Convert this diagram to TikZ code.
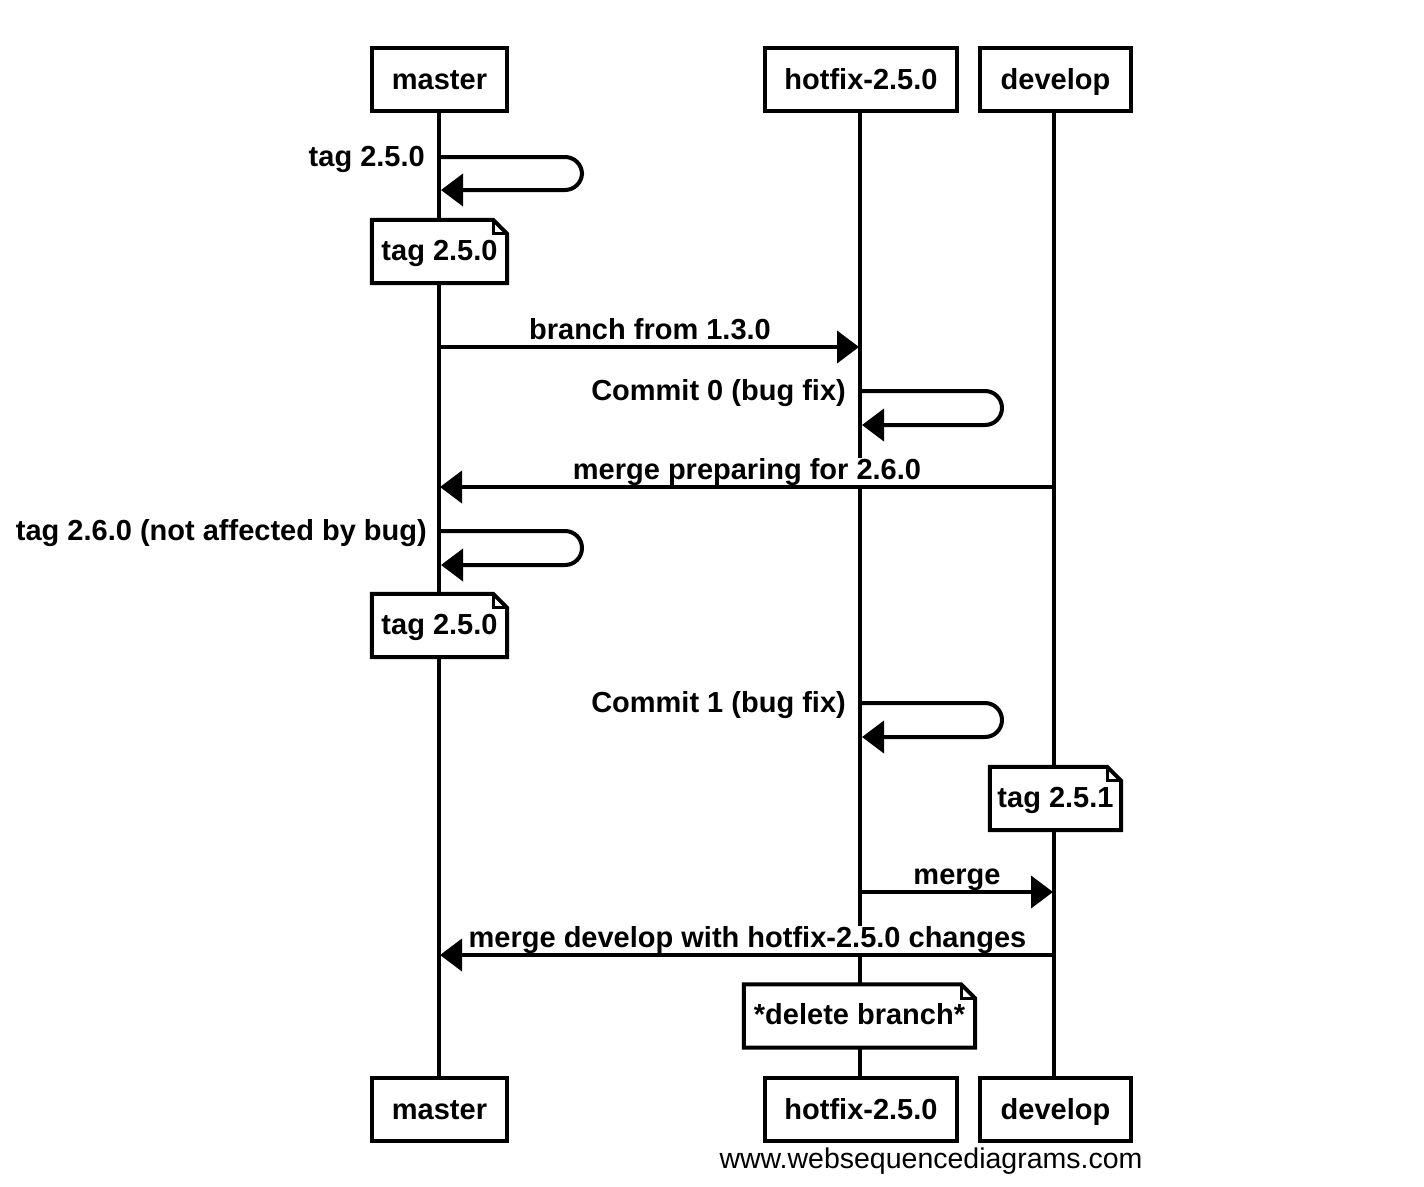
\documentclass[tikz,border=0pt]{standalone}
\usepackage{fontspec}
\setmainfont{Liberation Sans}
\usetikzlibrary{arrows.meta}
\begin{document}
\begin{tikzpicture}[x=1pt,y=-1pt,
  lw/.style={line width=4pt},
  txt/.style={font=\fontsize{29}{34}\selectfont\bfseries},
  actor/.style={draw, lw, fill=white, txt, minimum height=63pt, inner sep=0pt, text height=23.5pt, text depth=3.5pt},
  notebox/.style={fill=white, txt, minimum height=63pt, inner sep=0pt, text height=22pt, text depth=5pt},
  msg/.style={lw, -{Triangle[length=22pt,width=32pt]}},
  selfmsg/.style={msg, rounded corners=17pt},
  lbl/.style={fill=white, inner sep=0pt, txt, anchor=base},
  slbl/.style={inner sep=0pt, txt, anchor=base east},
  ]
\useasboundingbox (0,0) rectangle (1424,1186);
\fill[white] (0,0) rectangle (1424,1186);

% lifelines
\draw[lw] (439,100) coordinate (mL1) -- (439,1090) coordinate (mL2);
\draw[lw] (860,100) coordinate (hL1) -- (860,1090) coordinate (hL2);
\draw[lw] (1054,100) coordinate (dL1) -- (1054,1090) coordinate (dL2);

% participants
\node[actor, minimum width=135pt] (mT) at (439.5,79.5) {master};
\node[actor, minimum width=192pt] (hT) at (861,79.5) {hotfix-2.5.0};
\node[actor, minimum width=151pt] (dT) at (1055.5,79.5) {develop};
\node[actor, minimum width=135pt] (mB) at (439.5,1109.5) {master};
\node[actor, minimum width=192pt] (hB) at (861,1109.5) {hotfix-2.5.0};
\node[actor, minimum width=151pt] (dB) at (1055.5,1109.5) {develop};

% self message 1
\coordinate (s1a) at (441,157);
\coordinate (s1b) at (582,157);
\coordinate (s1c) at (582,190);
\coordinate (s1d) at (441,190);
\draw[selfmsg] (s1a) -- (s1b) -- (s1c) -- (s1d);
\node[slbl] (l1) at (425,166) {tag 2.5.0};

% note 1
\node[notebox, minimum width=135pt] (n1) at (439.5,251.5) {tag 2.5.0};

% branch from
\node[lbl] (l2) at (650,339) {branch from 1.3.0};
\coordinate (b1) at (441,347);
\coordinate (b2) at (859,347);
\draw[msg] (b1) -- (b2);

% commit 0
\coordinate (c0a) at (862,391);
\coordinate (c0b) at (1002,391);
\coordinate (c0c) at (1002,425);
\coordinate (c0d) at (862,425);
\draw[selfmsg] (c0a) -- (c0b) -- (c0c) -- (c0d);
\node[slbl] (l3) at (846,400) {Commit 0 (bug fix)};

% merge preparing
\node[lbl] (l4) at (747,479) {merge preparing for 2.6.0};
\coordinate (mp1) at (1054,487);
\coordinate (mp2) at (440,487);
\draw[msg] (mp1) -- (mp2);

% tag 2.6.0
\coordinate (s2a) at (441,531);
\coordinate (s2b) at (582,531);
\coordinate (s2c) at (582,565);
\coordinate (s2d) at (441,565);
\draw[selfmsg] (s2a) -- (s2b) -- (s2c) -- (s2d);
\node[slbl] (l5) at (427,540) {tag 2.6.0 (not affected by bug)};

% note 2
\node[notebox, minimum width=135pt] (n2) at (439.5,625.5) {tag 2.5.0};

% commit 1
\coordinate (c1a) at (862,703);
\coordinate (c1b) at (1002,703);
\coordinate (c1c) at (1002,737);
\coordinate (c1d) at (862,737);
\draw[selfmsg] (c1a) -- (c1b) -- (c1c) -- (c1d);
\node[slbl] (l6) at (846,712) {Commit 1 (bug fix)};

% note 3
\node[notebox, minimum width=131pt] (n3) at (1055.5,798.5) {tag 2.5.1};

% merge
\node[lbl] (l7) at (957,884) {merge};
\coordinate (g1) at (862,892);
\coordinate (g2) at (1053,892);
\draw[msg] (g1) -- (g2);

% merge develop with hotfix
\node[lbl] (l8) at (747.5,947) {merge develop with hotfix-2.5.0 changes};
\coordinate (md1) at (1054,955);
\coordinate (md2) at (440,955);
\draw[msg] (md1) -- (md2);

% note 4
\node[notebox, minimum width=231pt] (n4) at (859.5,1016) {*delete branch*};

% note outlines with dog-ear
\foreach \n in {n1,n2,n3,n4}{
  \draw[lw, line join=miter]
    (\n.north west) -- ([xshift=-14pt]\n.north east)
    -- ([yshift=-14pt]\n.north east) -- (\n.south east)
    -- (\n.south west) -- cycle;
  \draw[line width=3pt]
    ([xshift=-14pt]\n.north east) |- ([yshift=-14pt]\n.north east);
}

% watermark
\node[inner sep=0pt, anchor=base, font=\fontsize{28.5}{34}\selectfont] (wm) at (931,1168) {www.websequencediagrams.com};
\end{tikzpicture}
\end{document}
